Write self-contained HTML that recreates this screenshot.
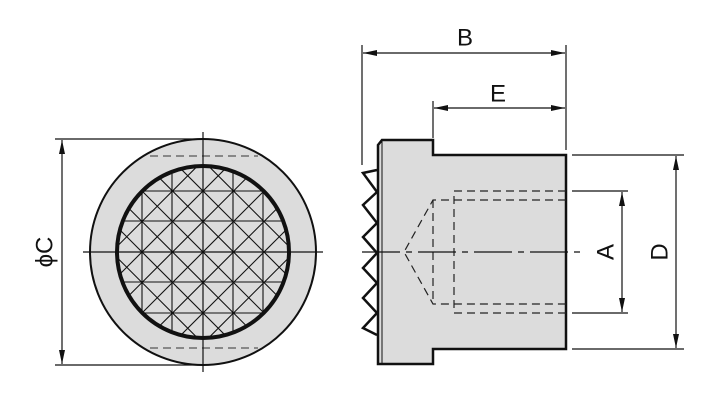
<!DOCTYPE html>
<html><head><style>html,body{margin:0;background:#fff;overflow:hidden;width:703px;height:403px}svg{display:block}text{font-family:"Liberation Sans",sans-serif;fill:#111}</style></head><body>
<svg width="703" height="403" viewBox="0 0 703 403" xmlns="http://www.w3.org/2000/svg">
<defs>
<clipPath id="cc"><circle cx="203" cy="252" r="86"/></clipPath>
<marker id="ar" viewBox="0 0 14 6" refX="14" refY="3" markerWidth="14" markerHeight="6" orient="auto" markerUnits="userSpaceOnUse"><path d="M0,0L14,3L0,6z" fill="#111"/></marker>
</defs>
<circle cx="203" cy="252" r="113" fill="#dcdcdc" stroke="#111" stroke-width="2"/>
<g stroke="#555" stroke-width="1.2" stroke-dasharray="8,5"><line x1="150" y1="156" x2="258" y2="156"/><line x1="150" y1="348" x2="258" y2="348"/></g>
<g clip-path="url(#cc)" stroke="#111" stroke-width="1.1">
<line x1="142" y1="164" x2="142" y2="340"/><line x1="172" y1="164" x2="172" y2="340"/><line x1="233" y1="164" x2="233" y2="340"/><line x1="263" y1="164" x2="263" y2="340"/>
<line x1="115" y1="191" x2="291" y2="191"/><line x1="115" y1="221" x2="291" y2="221"/><line x1="115" y1="282" x2="291" y2="282"/><line x1="115" y1="313" x2="291" y2="313"/>
<line x1="115" y1="286" x2="169" y2="340"/><line x1="115" y1="255.5" x2="199.5" y2="340"/><line x1="115" y1="225" x2="230" y2="340"/><line x1="115" y1="194.5" x2="260.5" y2="340"/><line x1="115" y1="164" x2="291" y2="340"/><line x1="145.5" y1="164" x2="291" y2="309.5"/><line x1="176" y1="164" x2="291" y2="279"/><line x1="206.5" y1="164" x2="291" y2="248.5"/><line x1="237" y1="164" x2="291" y2="218"/>
<line x1="115" y1="218" x2="169" y2="164"/><line x1="115" y1="248.5" x2="199.5" y2="164"/><line x1="115" y1="279" x2="230" y2="164"/><line x1="115" y1="309.5" x2="260.5" y2="164"/><line x1="115" y1="340" x2="291" y2="164"/><line x1="145.5" y1="340" x2="291" y2="194.5"/><line x1="176" y1="340" x2="291" y2="225"/><line x1="206.5" y1="340" x2="291" y2="255.5"/><line x1="237" y1="340" x2="291" y2="286"/>
</g>
<circle cx="203" cy="252" r="86" fill="none" stroke="#111" stroke-width="4"/>
<g stroke="#111" stroke-width="1.2"><line x1="203" y1="132" x2="203" y2="372"/><line x1="83" y1="252" x2="323" y2="252"/>
<line x1="55" y1="139" x2="203" y2="139"/><line x1="55" y1="365" x2="203" y2="365"/>
<line x1="62" y1="252" x2="62" y2="140" marker-end="url(#ar)"/><line x1="62" y1="252" x2="62" y2="364" marker-end="url(#ar)"/></g>
<text x="45" y="252" font-size="24" text-anchor="middle" dominant-baseline="central" transform="rotate(-90 45 252)">ϕC</text>
<polyline points="377,170 363,173 377,192 363,205 377,223 363,237 377,253 363,268 377,283 363,298 377,313 363,328 377,335" fill="none" stroke="#111" stroke-width="2.5"/>
<path d="M378,145 L382,140 L433,140 L433,155 L566,155 L566,349 L433,349 L433,364 L378,364 Z" fill="#dcdcdc" stroke="#111" stroke-width="2.5"/>
<line x1="382" y1="141" x2="382" y2="363" stroke="#111" stroke-width="1"/>
<g stroke="#222" stroke-width="1.2" stroke-dasharray="8,5" fill="none">
<path d="M566,191 L454,191 L454,313 L566,313"/>
<path d="M566,200 L433,200 L404,252 L433,304 L566,304"/>
<line x1="433" y1="200" x2="433" y2="304"/>
</g>
<line x1="362" y1="252" x2="582" y2="252" stroke="#111" stroke-width="1.2" stroke-dasharray="38,6,6,6"/>
<g stroke="#111" stroke-width="1.2">
<line x1="362" y1="45" x2="362" y2="165"/><line x1="566" y1="45" x2="566" y2="150"/><line x1="433" y1="101" x2="433" y2="138"/>
<line x1="465" y1="53" x2="363" y2="53" marker-end="url(#ar)"/><line x1="465" y1="53" x2="565" y2="53" marker-end="url(#ar)"/>
<line x1="500" y1="108" x2="434" y2="108" marker-end="url(#ar)"/><line x1="500" y1="108" x2="565" y2="108" marker-end="url(#ar)"/>
<line x1="572" y1="155" x2="684" y2="155"/><line x1="572" y1="349" x2="684" y2="349"/>
<line x1="572" y1="191" x2="628" y2="191"/><line x1="572" y1="313" x2="628" y2="313"/>
<line x1="622" y1="252" x2="622" y2="192" marker-end="url(#ar)"/><line x1="622" y1="252" x2="622" y2="312" marker-end="url(#ar)"/>
<line x1="676" y1="252" x2="676" y2="156" marker-end="url(#ar)"/><line x1="676" y1="252" x2="676" y2="348" marker-end="url(#ar)"/>
</g>
<text x="465" y="38" font-size="24" text-anchor="middle" dominant-baseline="central">B</text>
<text x="498" y="94" font-size="24" text-anchor="middle" dominant-baseline="central">E</text>
<text x="606" y="252" font-size="24" text-anchor="middle" dominant-baseline="central" transform="rotate(-90 606 252)">A</text>
<text x="660" y="252" font-size="24" text-anchor="middle" dominant-baseline="central" transform="rotate(-90 660 252)">D</text>
</svg>
</body></html>
